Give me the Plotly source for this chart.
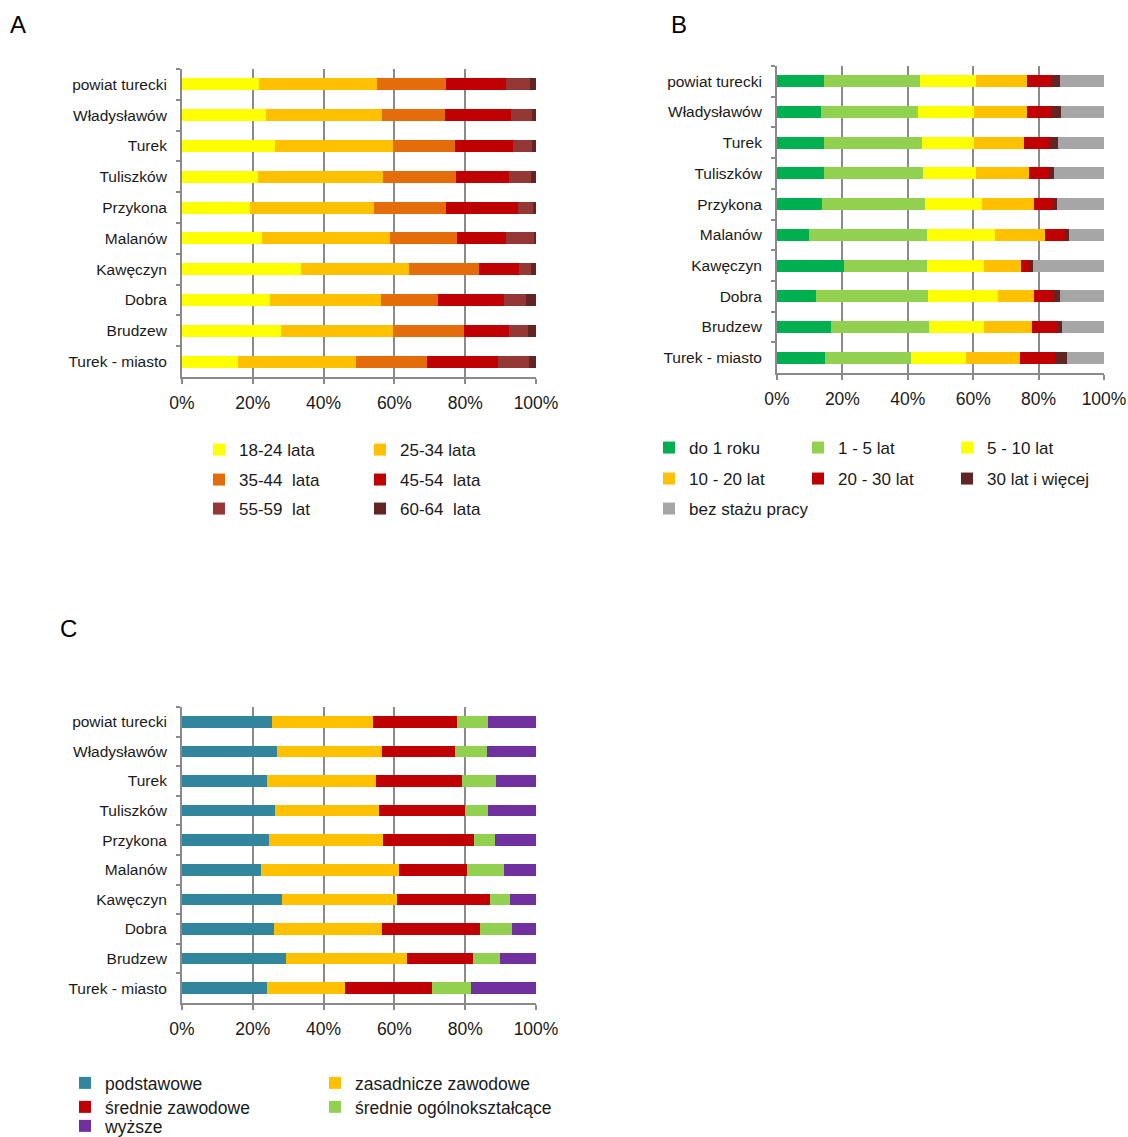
import plotly.graph_objects as go

W, H = 1128, 1137
OFF = 0  # body margin removed by the post script below

categories = ["powiat turecki", "Władysławów", "Turek", "Tuliszków", "Przykona",
              "Malanów", "Kawęczyn", "Dobra", "Brudzew", "Turek - miasto"]

# ---- Panel A: age groups (%)
a_names = ["18-24 lata", "25-34 lata", "35-44  lata", "45-54  lata", "55-59  lat", "60-64  lata"]
a_18_24 = [21.8, 23.7, 26.2, 21.4, 19.2, 22.7, 33.6, 24.8, 27.9, 15.8]
a_25_34 = [33.4, 32.8, 33.3, 35.5, 35.0, 36.1, 30.6, 31.4, 31.7, 33.3]
a_35_44 = [19.4, 17.7, 17.7, 20.6, 20.4, 18.8, 19.7, 16.1, 20.1, 20.0]
a_45_54 = [17.0, 18.8, 16.2, 15.0, 20.2, 14.0, 11.4, 18.7, 12.8, 20.1]
a_55_59 = [6.8, 5.9, 5.5, 6.1, 4.4, 7.7, 3.4, 6.2, 5.1, 8.9]
a_60_64 = [1.6, 1.1, 1.1, 1.4, 0.8, 0.7, 1.3, 2.8, 2.4, 1.9]
a_colors = ["#FFFF00", "#FFC000", "#E46C0A", "#C00000", "#953735", "#632523"]

# ---- Panel B: work experience (%)
b_names = ["do 1 roku", "1 - 5 lat", "5 - 10 lat", "10 - 20 lat", "20 - 30 lat",
           "30 lat i więcej", "bez stażu pracy"]
b_do1 = [14.5, 13.4, 14.3, 14.3, 13.9, 9.7, 20.4, 11.8, 16.6, 14.6]
b_1_5 = [29.1, 29.7, 30.0, 30.2, 31.3, 36.1, 25.4, 34.3, 30.0, 26.3]
b_5_10 = [17.2, 17.1, 16.0, 16.3, 17.5, 21.0, 17.5, 21.6, 16.8, 16.9]
b_10_20 = [15.5, 16.1, 15.3, 16.4, 15.9, 15.1, 11.3, 10.9, 14.7, 16.6]
b_20_30 = [7.9, 7.9, 7.9, 6.1, 6.2, 6.3, 2.6, 6.2, 7.7, 10.7]
b_30plus = [2.3, 2.7, 2.4, 1.5, 0.8, 1.1, 1.0, 1.7, 1.4, 3.6]
b_bez = [13.5, 13.1, 14.1, 15.2, 14.4, 10.7, 21.8, 13.5, 12.8, 11.3]
b_colors = ["#00B050", "#92D050", "#FFFF00", "#FFC000", "#C00000", "#632523", "#A6A6A6"]

# ---- Panel C: education (%)
c_names = ["podstawowe", "zasadnicze zawodowe", "średnie zawodowe",
           "średnie ogólnokształcące", "wyższe"]
c_podst = [25.5, 26.8, 23.9, 26.2, 24.5, 22.3, 28.2, 26.0, 29.4, 24.1]
c_zasad = [28.5, 29.7, 30.8, 29.5, 32.2, 39.1, 32.4, 30.6, 34.2, 22.0]
c_srzaw = [23.7, 20.7, 24.5, 24.3, 25.9, 19.2, 26.3, 27.6, 18.7, 24.6]
c_srogol = [8.8, 9.0, 9.6, 6.5, 5.9, 10.5, 5.8, 8.9, 7.6, 11.0]
c_wyzsze = [13.5, 13.8, 11.2, 13.5, 11.5, 8.9, 7.3, 6.9, 10.1, 18.3]
c_colors = ["#31859C", "#FFC000", "#C00000", "#92D050", "#7030A0"]

tick_vals = [0, 20, 40, 60, 80, 100]
tick_labels = ["0%", "20%", "40%", "60%", "80%", "100%"]

FONT = "Liberation Sans, Arial, sans-serif"
GRID = "#8A8A8A"
TXT = "#1A1A1A"
BAR_W = 0.39


def PX(x):
    return (x - OFF) / W


def PY(y):
    return 1 - (y - OFF) / H


fig = go.Figure()

a_series = [a_18_24, a_25_34, a_35_44, a_45_54, a_55_59, a_60_64]
a_leg = ["legend", "legend", "legend2", "legend2", "legend3", "legend3"]
for name, vals, col, lg in zip(a_names, a_series, a_colors, a_leg):
    fig.add_trace(go.Bar(y=categories, x=vals, name=name, orientation="h",
                         marker=dict(color=col, line=dict(width=0)), width=BAR_W,
                         xaxis="x", yaxis="y", legend=lg))

b_series = [b_do1, b_1_5, b_5_10, b_10_20, b_20_30, b_30plus, b_bez]
b_leg = ["legend4", "legend4", "legend4", "legend5", "legend5", "legend5", "legend6"]
for name, vals, col, lg in zip(b_names, b_series, b_colors, b_leg):
    fig.add_trace(go.Bar(y=categories, x=vals, name=name, orientation="h",
                         marker=dict(color=col, line=dict(width=0)), width=BAR_W,
                         xaxis="x2", yaxis="y2", legend=lg))

c_series = [c_podst, c_zasad, c_srzaw, c_srogol, c_wyzsze]
c_leg = ["legend7", "legend7", "legend8", "legend8", "legend9"]
for name, vals, col, lg in zip(c_names, c_series, c_colors, c_leg):
    fig.add_trace(go.Bar(y=categories, x=vals, name=name, orientation="h",
                         marker=dict(color=col, line=dict(width=0)), width=BAR_W,
                         xaxis="x3", yaxis="y3", legend=lg))


def xax(x0, x1, anchor):
    return dict(domain=[PX(x0), PX(x1)], range=[0, 100], anchor=anchor,
                tickvals=tick_vals, ticktext=tick_labels,
                showgrid=True, gridcolor=GRID, gridwidth=2,
                showline=True, linecolor=GRID, linewidth=2,
                ticks="outside", ticklen=5, tickwidth=2, tickcolor=GRID,
                zeroline=False, fixedrange=True, automargin=False,
                ticklabelstandoff=4,
                tickfont=dict(family=FONT, size=17.5, color=TXT))


def yax(y_top, y_bot, anchor):
    return dict(domain=[PY(y_bot), PY(y_top)], anchor=anchor,
                type="category", categoryorder="array", categoryarray=categories,
                autorange="reversed", tickson="boundaries",
                showline=True, linecolor=GRID, linewidth=2,
                ticks="outside", ticklen=4, tickwidth=2, tickcolor=GRID,
                showgrid=False, zeroline=False, fixedrange=True, automargin=False,
                ticklabelstandoff=10,
                tickfont=dict(family=FONT, size=15.5, color=TXT))


def leg(text_x, y_c, ew, size):
    return dict(x=PX(text_x + 4 - 40), y=PY(y_c), xanchor="left", yanchor="middle",
                orientation="h", entrywidth=ew, entrywidthmode="pixels",
                traceorder="normal",
                bgcolor="rgba(0,0,0,0)", borderwidth=0, itemclick=False,
                font=dict(family=FONT, size=size, color=TXT))


fig.update_layout(
    width=W, height=H, margin=dict(l=0, r=0, t=0, b=0, autoexpand=False),
    paper_bgcolor="white", plot_bgcolor="white",
    barmode="stack", showlegend=True, hovermode=False,
    font=dict(family=FONT, color=TXT),
    xaxis=xax(182, 536, "y"), yaxis=yax(69, 377, "x"),
    xaxis2=xax(777, 1104, "y2"), yaxis2=yax(66, 373, "x2"),
    xaxis3=xax(182, 536, "y3"), yaxis3=yax(707, 1003, "x3"),
    legend=leg(235, 450, 116, 17),
    legend2=leg(235, 480, 116, 17),
    legend3=leg(235, 509, 116, 17),
    legend4=leg(685, 448, 104, 17),
    legend5=leg(685, 479, 104, 17),
    legend6=leg(685, 509, 160, 17),
    legend7=leg(101, 1083, 205, 17.5),
    legend8=leg(101, 1107, 205, 17.5),
    legend9=leg(101, 1126, 205, 17.5),
)

for txt, x, y in [("A", 18, 25), ("B", 679, 25), ("C", 68, 628)]:
    fig.add_annotation(text=txt, x=PX(x), y=PY(y), xref="paper", yref="paper",
                       xanchor="center", yanchor="middle", showarrow=False,
                       font=dict(family=FONT, size=24, color="black"))

fig.write_html(
    "out.html",
    config={"displayModeBar": False},
    post_script="document.body.style.margin='0';"
                "document.documentElement.style.overflow='hidden';"
                "document.body.style.overflow='hidden';",
)
